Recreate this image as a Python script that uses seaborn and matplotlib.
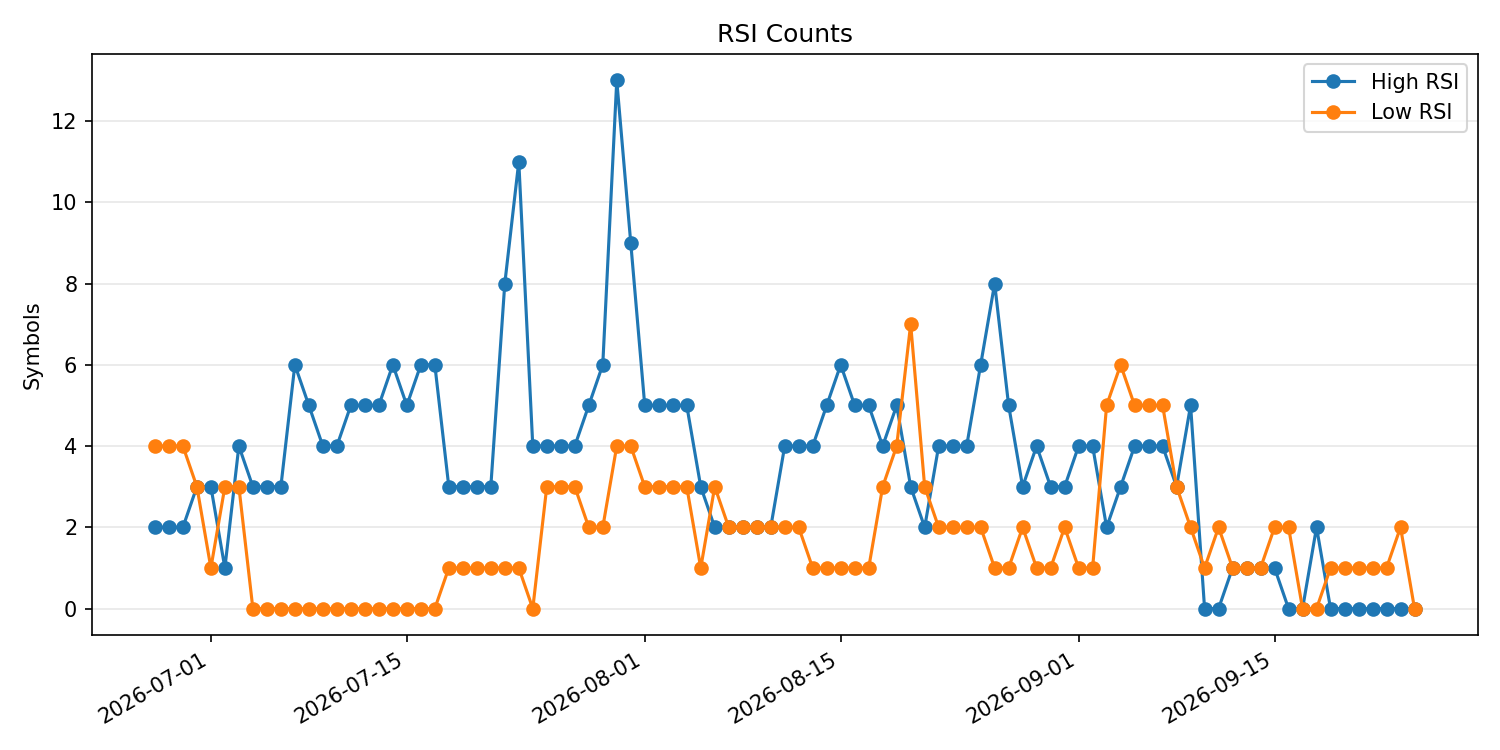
import pandas as pd
import seaborn as sns
import matplotlib
matplotlib.use("Agg")
import matplotlib.pyplot as plt

# daily counts, 2026-06-27 .. 2026-09-25
start_date = "2026-06-27"
high_rsi = [2, 2, 2, 3, 3, 1, 4, 3, 3, 3, 6, 5, 4, 4, 5, 5, 5, 6, 5, 6,
            6, 3, 3, 3, 3, 8, 11, 4, 4, 4, 4, 5, 6, 13, 9, 5, 5, 5, 5, 3,
            2, 2, 2, 2, 2, 4, 4, 4, 5, 6, 5, 5, 4, 5, 3, 2, 4, 4, 4, 6,
            8, 5, 3, 4, 3, 3, 4, 4, 2, 3, 4, 4, 4, 3, 5, 0, 0, 1, 1, 1,
            1, 0, 0, 2, 0, 0, 0, 0, 0, 0, 0]
low_rsi = [4, 4, 4, 3, 1, 3, 3, 0, 0, 0, 0, 0, 0, 0, 0, 0, 0, 0, 0, 0,
           0, 1, 1, 1, 1, 1, 1, 0, 3, 3, 3, 2, 2, 4, 4, 3, 3, 3, 3, 1,
           3, 2, 2, 2, 2, 2, 2, 1, 1, 1, 1, 1, 3, 4, 7, 3, 2, 2, 2, 2,
           1, 1, 2, 1, 1, 2, 1, 1, 5, 6, 5, 5, 5, 3, 2, 1, 2, 1, 1, 1,
           2, 2, 0, 0, 1, 1, 1, 1, 1, 2, 0]

dates = pd.date_range(start_date, periods=len(high_rsi), freq="D")
df = pd.DataFrame({"date": dates, "High RSI": high_rsi, "Low RSI": low_rsi})

fig, ax = plt.subplots(figsize=(10, 5), dpi=150)

colors = {"High RSI": "#1f77b4", "Low RSI": "#ff7f0e"}
for col in ["High RSI", "Low RSI"]:
    sns.lineplot(data=df, x="date", y=col, ax=ax, label=col,
                 color=colors[col], marker="o", markersize=6,
                 markeredgecolor=colors[col], markeredgewidth=1,
                 linewidth=1.5)

ax.set_title("RSI Counts")
ax.set_xlabel("")
ax.set_ylabel("Symbols")
ax.grid(axis="y", alpha=0.3)
ax.legend(loc="upper right")
fig.autofmt_xdate()

plt.tight_layout()
plt.savefig("out.png", dpi=150)
plt.close("all")
